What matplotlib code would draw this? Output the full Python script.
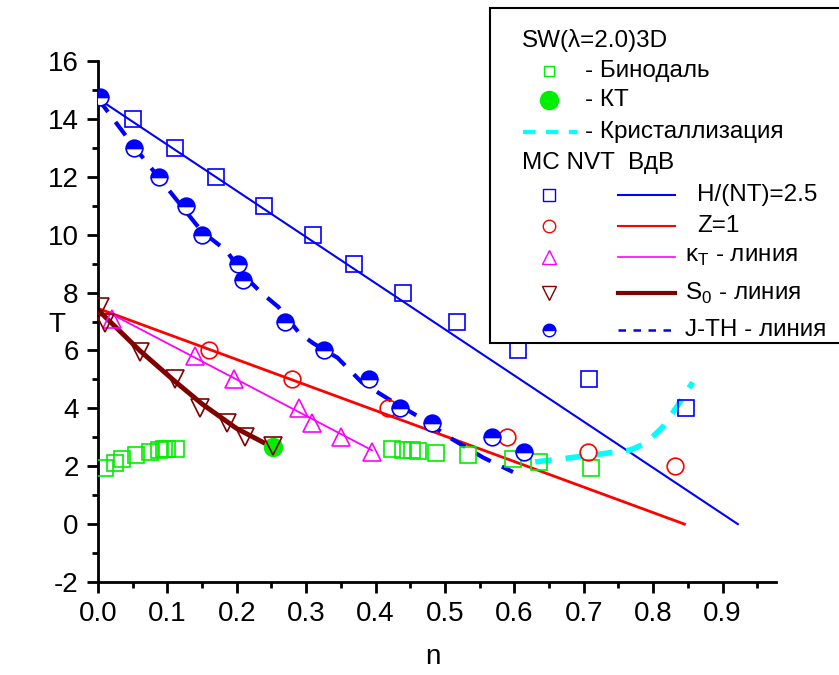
import numpy as np
import matplotlib
matplotlib.use("Agg")
import matplotlib.pyplot as plt
from matplotlib.lines import Line2D
from matplotlib.patches import Rectangle

plt.rcParams['font.family'] = ['Liberation Sans', 'DejaVu Sans']
plt.rcParams['mathtext.fontset'] = 'custom'
plt.rcParams['mathtext.rm'] = 'Liberation Sans'
plt.rcParams['axes.unicode_minus'] = False

# --- SW(lambda=2.0) 3D: binodal, critical point, crystallization -------
binodal_n = [0.010, 0.024, 0.035, 0.055, 0.075, 0.088, 0.095, 0.099, 0.112,
             0.424, 0.439, 0.452, 0.461, 0.487, 0.533, 0.598, 0.635, 0.710]
binodal_T = [1.94, 2.11, 2.25, 2.39, 2.49, 2.56, 2.58, 2.60, 2.60,
             2.60, 2.56, 2.56, 2.53, 2.46, 2.39, 2.25, 2.15, 1.94]
kt_n = [0.252]
kt_T = [2.66]
cryst_n = [0.630, 0.666, 0.700, 0.733, 0.767, 0.790, 0.814, 0.834, 0.857]
cryst_T = [2.15, 2.25, 2.35, 2.45, 2.56, 2.80, 3.36, 4.05, 4.90]

# --- MC NVT vdW ---------------------------------------------------------
h_n = [0.050, 0.111, 0.170, 0.239, 0.310, 0.369, 0.439, 0.517, 0.605, 0.707, 0.847]
h_T = [14, 13, 12, 11, 10, 9, 8, 7, 6, 5, 4]
h_line_n = [0.0, 0.922]
h_line_T = [14.7, 0.0]

z_n = [0.160, 0.280, 0.418, 0.589, 0.706, 0.831]
z_T = [6.0, 5.0, 4.0, 3.0, 2.5, 2.0]
z_line_n = [0.0, 0.845]
z_line_T = [7.45, 0.0]

kt_line_pts_n = [0.020, 0.140, 0.196, 0.290, 0.308, 0.350, 0.395]
kt_line_pts_T = [7.1, 5.8, 5.0, 4.0, 3.5, 3.0, 2.5]
kappa_line_n = [0.02, 0.395]
kappa_line_T = [7.25, 2.55]

s0_n = [0.003, 0.010, 0.061, 0.111, 0.147, 0.186, 0.212, 0.252]
s0_T = [7.5, 6.95, 5.95, 5.0, 4.0, 3.5, 3.0, 2.7]
s0_line_n = [0.0, 0.06, 0.11, 0.15, 0.20, 0.252]
s0_line_T = [7.4, 6.0, 4.95, 4.15, 3.3, 2.65]

jth_n = [0.003, 0.052, 0.088, 0.127, 0.150, 0.202, 0.209, 0.269, 0.326,
         0.390, 0.435, 0.481, 0.568, 0.614]
jth_T = [14.74, 13.0, 12.0, 11.0, 10.0, 9.0, 8.44, 7.0, 6.0,
         5.0, 4.0, 3.5, 3.0, 2.5]
jth_line_n = [0.0, 0.05, 0.10, 0.15, 0.185, 0.21, 0.235, 0.26, 0.29, 0.31,
              0.345, 0.38, 0.42, 0.465, 0.51, 0.555, 0.598]
jth_line_T = [14.7, 13.1, 11.6, 10.1, 9.45, 8.6, 8.0, 7.5, 6.6, 6.25,
              5.75, 4.9, 4.3, 3.67, 2.94, 2.3, 1.8]

BLUE = '#0000ff'
RED = '#ff0000'
MAGENTA = '#ff00ff'
BROWN = '#800000'
GREEN = '#00ee00'
CYAN = '#00ffff'

W, H = 839.0, 675.0
AX_L, AX_R, AX_T, AX_B = 98, 776, 61, 582

fig = plt.figure(figsize=(8.39, 6.75), dpi=100)
ax = fig.add_axes([AX_L / W, 1 - AX_B / H, (AX_R - AX_L) / W, (AX_B - AX_T) / H])

# lines
ax.plot(h_line_n, h_line_T, color=BLUE, lw=1.5, zorder=2)
ax.plot(z_line_n, z_line_T, color=RED, lw=2, zorder=2)
ax.plot(kappa_line_n, kappa_line_T, color=MAGENTA, lw=1.3, zorder=2)
ax.plot(s0_line_n, s0_line_T, color=BROWN, lw=3.5, zorder=2)
ax.plot(jth_line_n, jth_line_T, color=BLUE, lw=3, dashes=(4, 3), zorder=2)
ax.plot(cryst_n, cryst_T, color=CYAN, lw=4, dashes=(3, 2.5), zorder=2)

# markers
mk = dict(linestyle='none', markerfacecolor='none', markeredgewidth=1.2, zorder=3)
ax.plot(binodal_n, binodal_T, marker='s', ms=11, markeredgecolor=GREEN, **mk)
ax.plot(h_n, h_T, marker='s', ms=11, markeredgecolor=BLUE, **mk)
ax.plot(z_n, z_T, marker='o', ms=12, markeredgecolor=RED, **mk)
ax.plot(kt_line_pts_n, kt_line_pts_T, marker='^', ms=13, markeredgecolor=MAGENTA, **mk)
ax.plot(s0_n, s0_T, marker='v', ms=13, markeredgecolor=BROWN, **mk)
ax.plot(kt_n, kt_T, marker='o', ms=13, linestyle='none', color=GREEN, zorder=2.5)
ax.plot(jth_n, jth_T, marker='o', ms=12, linestyle='none', fillstyle='top',
        markerfacecolor=BLUE, markerfacecoloralt='white', markeredgecolor=BLUE,
        markeredgewidth=1.2, zorder=3)

ax.set_xlim(0, 0.977)
ax.set_ylim(-2, 16)
ax.set_xticks(np.arange(0, 0.91, 0.1))
ax.set_xticks(np.arange(0.05, 0.96, 0.1), minor=True)
ax.set_xticklabels(['%.1f' % v for v in np.arange(0, 0.91, 0.1)])
ax.set_yticks(np.arange(-2, 17, 2))
ax.set_yticks(np.arange(-1, 16, 2), minor=True)
for side in ['top', 'right']:
    ax.spines[side].set_visible(False)
for side in ['left', 'bottom']:
    ax.spines[side].set_linewidth(2)
ax.tick_params(which='major', direction='out', length=8, width=2, labelsize=20, pad=6)
ax.tick_params(which='minor', direction='out', length=4, width=2)

ax.set_xlabel('n', fontsize=20, va='center')
ax.xaxis.set_label_coords((433 - AX_L) / (AX_R - AX_L), -(657 - AX_B) / (AX_B - AX_T))
ax.set_ylabel('T', fontsize=20, rotation=0, ha='center', va='center')
ax.yaxis.set_label_coords(-(AX_L - 57) / (AX_R - AX_L), (AX_B - 325) / (AX_B - AX_T))


# legend box drawn by hand in figure pixels
def fx(px):
    return px / W


def fy(py):
    return 1 - py / H


fig.patches.append(Rectangle((fx(490), fy(343)), fx(400), (343 - 8) / H,
                             transform=fig.transFigure, facecolor='white',
                             edgecolor='black', lw=1.5, zorder=5))
ts = 17.5
fig.text(fx(522), fy(40), 'SW(λ=2.0)3D', fontsize=ts, va='center', zorder=6)
fig.text(fx(522), fy(163), 'MC NVT  ВдВ', fontsize=ts, va='center', zorder=6)


def leg_marker(y, **kw):
    fig.add_artist(Line2D([fx(549)], [fy(y)], transform=fig.transFigure,
                          linestyle='none', zorder=6, **kw))


def leg_line(y, x0, x1, **kw):
    fig.add_artist(Line2D([fx(x0), fx(x1)], [fy(y), fy(y)],
                          transform=fig.transFigure, zorder=6, **kw))


leg_marker(71, marker='s', ms=7, markerfacecolor='none', markeredgecolor=GREEN, markeredgewidth=1)
fig.text(fx(585), fy(71), '- Бинодаль', fontsize=ts, va='center', zorder=6)
leg_marker(100, marker='o', ms=13, color=GREEN)
fig.text(fx(585), fy(100), '- КТ', fontsize=ts, va='center', zorder=6)
leg_line(132, 523, 577, color=CYAN, lw=3, dashes=(3, 2.5))
fig.text(fx(585), fy(132), '- Кристаллизация', fontsize=ts, va='center', zorder=6)

leg_marker(195, marker='s', ms=8, markerfacecolor='none', markeredgecolor=BLUE, markeredgewidth=1)
leg_line(195, 618, 675, color=BLUE, lw=1.5)
fig.text(fx(697), fy(195), 'H/(NT)=2.5', fontsize=ts, va='center', zorder=6)

leg_marker(226, marker='o', ms=9, markerfacecolor='none', markeredgecolor=RED, markeredgewidth=1)
leg_line(226, 618, 675, color=RED, lw=1.5)
fig.text(fx(697), fy(226), 'Z=1', fontsize=ts, va='center', zorder=6)

leg_marker(257, marker='^', ms=10, markerfacecolor='none', markeredgecolor=MAGENTA, markeredgewidth=1)
leg_line(257, 618, 675, color=MAGENTA, lw=1.2)
fig.text(fx(685), fy(257), r'κ$_\mathregular{T}$ - линия', fontsize=ts, va='center', zorder=6)

leg_marker(293, marker='v', ms=10, markerfacecolor='none', markeredgecolor=BROWN, markeredgewidth=1)
leg_line(293, 618, 675, color=BROWN, lw=3)
fig.text(fx(685), fy(293), r'S$_\mathregular{0}$ - линия', fontsize=ts, va='center', zorder=6)

leg_marker(330, marker='o', ms=9, fillstyle='top', markerfacecolor=BLUE,
           markerfacecoloralt='white', markeredgecolor=BLUE, markeredgewidth=1)
leg_line(330, 618, 675, color=BLUE, lw=1.8, dashes=(3, 3))
fig.text(fx(685), fy(330), 'J-TH - линия', fontsize=ts, va='center', zorder=6)

fig.savefig('out.png', dpi=100)
